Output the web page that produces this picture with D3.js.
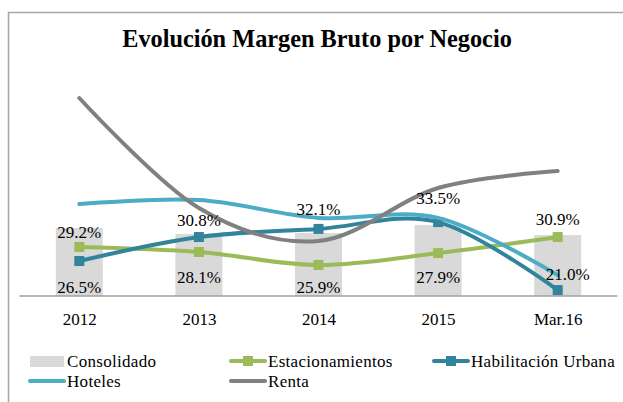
<!DOCTYPE html>
<html>
<head>
<meta charset="utf-8">
<script src="https://cdn.jsdelivr.net/npm/d3@7"></script>
<style>
  html, body { margin: 0; padding: 0; background: #fff; }
  svg { display: block; }
</style>
</head>
<body>
<svg id="chart" width="623" height="402"></svg>
<script>
// ---- data ----
const categories = ["2012", "2013", "2014", "2015", "Mar.16"];
const consolidado = [30.9, 28.2, 28.6, 32.3, 27.7];
const estacionamientos = [22.3, 20.0, 14.1, 19.5, 26.8];
const habilitacionUrbana = [15.9, 26.8, 30.5, 33.6, 2.7];
const hoteles = [41.8, 43.6, 35.5, 35.5, 9.5];
const renta = [90.0, 40.0, 25.0, 49.1, 56.8];
const topLabels = ["29.2%", "30.8%", "32.1%", "33.5%", "30.9%"];
const bottomLabels = ["26.5%", "28.1%", "25.9%", "27.9%", "21.0%"];
const title = "Evolución Margen Bruto por Negocio";

// ---- layout ----
const FONT = '"Liberation Serif"';
const svg = d3.select("#chart");
const baseY = 296, topY = 76;
const x = d3.scalePoint().domain(categories).range([19.5, 617.5]).padding(0.5);
const y = d3.scaleLinear().domain([0, 100]).range([baseY, topY]);
const barW = x.step() * 0.393;

// outer frame
svg.append("rect").attr("x", 8.5).attr("y", 12.5).attr("width", 700).attr("height", 500)
  .attr("fill", "none").attr("stroke", "#a6a6a6").attr("stroke-width", 1.5);

// title
svg.append("text").attr("x", 317).attr("y", 47).attr("text-anchor", "middle")
  .style("font-family", FONT)
  .attr("font-size", 24.3).attr("font-weight", "bold").text(title);

// bars
svg.append("g").selectAll("rect").data(consolidado).join("rect")
  .attr("x", (d, i) => x(categories[i]) - barW / 2)
  .attr("y", d => y(d))
  .attr("width", barW)
  .attr("height", d => y(0) - y(d))
  .attr("fill", "#d9d9d9");

// axis
const xAxis = d3.axisBottom(x).tickSize(0).tickPadding(0);
const ax = svg.append("g").attr("transform", `translate(0,${baseY})`).call(xAxis);
ax.select(".domain").attr("stroke", "#a0a0a0").attr("stroke-width", 1.5)
  .attr("d", "M19.5,0H617.5");
ax.selectAll("text").attr("font-size", 17).attr("dy", 0).attr("y", 29)
  .style("font-family", FONT).attr("fill", "#000");

// lines
const curve = d3.curveCatmullRom.alpha(0);
const lineGen = d3.line().x((d, i) => x(categories[i])).y(d => y(d)).curve(curve);
const series = [
  { name: "Estacionamientos", values: estacionamientos, color: "#9bbb59", marker: true },
  { name: "Habilitación Urbana", values: habilitacionUrbana, color: "#31849b", marker: true },
  { name: "Hoteles", values: hoteles, color: "#4bacc6", marker: false },
  { name: "Renta", values: renta, color: "#808080", marker: false }
];
const lg = svg.append("g");
series.forEach(s => {
  lg.append("path").attr("d", lineGen(s.values)).attr("fill", "none")
    .attr("stroke", s.color).attr("stroke-width", 4).attr("stroke-linecap", "round");
  if (s.marker) {
    lg.selectAll(null).data(s.values).join("rect")
      .attr("x", (d, i) => x(categories[i]) - 5)
      .attr("y", d => y(d) - 5)
      .attr("width", 10).attr("height", 10)
      .attr("fill", s.color);
  }
});

// data labels
const topScale = d3.scaleLinear().domain([29.2, 33.5]).range([y(26.3), y(41.6)]);
svg.append("g").selectAll("text").data(topLabels).join("text")
  .attr("x", (d, i) => x(categories[i]))
  .attr("y", d => topScale(parseFloat(d)))
  .style("font-family", FONT)
  .attr("text-anchor", "middle").attr("font-size", 17).text(d => d);
const bottomNudge = [[0, 3], [0, 13], [0, 3], [0, 13], [10, 16]];
svg.append("g").selectAll("text").data(bottomLabels).join("text")
  .attr("x", (d, i) => x(categories[i]) + bottomNudge[i][0])
  .attr("y", (d, i) => y(0) - bottomNudge[i][1])
  .style("font-family", FONT)
  .attr("text-anchor", "middle").attr("font-size", 17).text(d => d);

// legend
const legendItems = [
  { name: "Consolidado", type: "bar", color: "#d9d9d9", col: 0, row: 0 },
  { name: "Estacionamientos", type: "marker", color: "#9bbb59", col: 1, row: 0 },
  { name: "Habilitación Urbana", type: "marker", color: "#31849b", col: 2, row: 0 },
  { name: "Hoteles", type: "line", color: "#4bacc6", col: 0, row: 1 },
  { name: "Renta", type: "line", color: "#808080", col: 1, row: 1 }
];
const colX = [29, 230, 433];
const rowY = [361, 381];
const leg = svg.append("g");
legendItems.forEach(it => {
  const lx = colX[it.col], ly = rowY[it.row];
  if (it.type === "bar") {
    leg.append("rect").attr("x", lx + 1).attr("y", ly - 5).attr("width", 34).attr("height", 11).attr("fill", it.color);
  } else {
    leg.append("line").attr("x1", lx + 1).attr("x2", lx + 35).attr("y1", ly).attr("y2", ly)
      .attr("stroke", it.color).attr("stroke-width", 4).attr("stroke-linecap", "round");
    if (it.type === "marker") {
      leg.append("rect").attr("x", lx + 13).attr("y", ly - 5).attr("width", 10).attr("height", 10).attr("fill", it.color);
    }
  }
  leg.append("text").attr("x", lx + 38).attr("y", ly + 6).attr("font-size", 17)
    .attr("letter-spacing", 0.3)
    .style("font-family", FONT).text(it.name);
});
</script>
</body>
</html>
